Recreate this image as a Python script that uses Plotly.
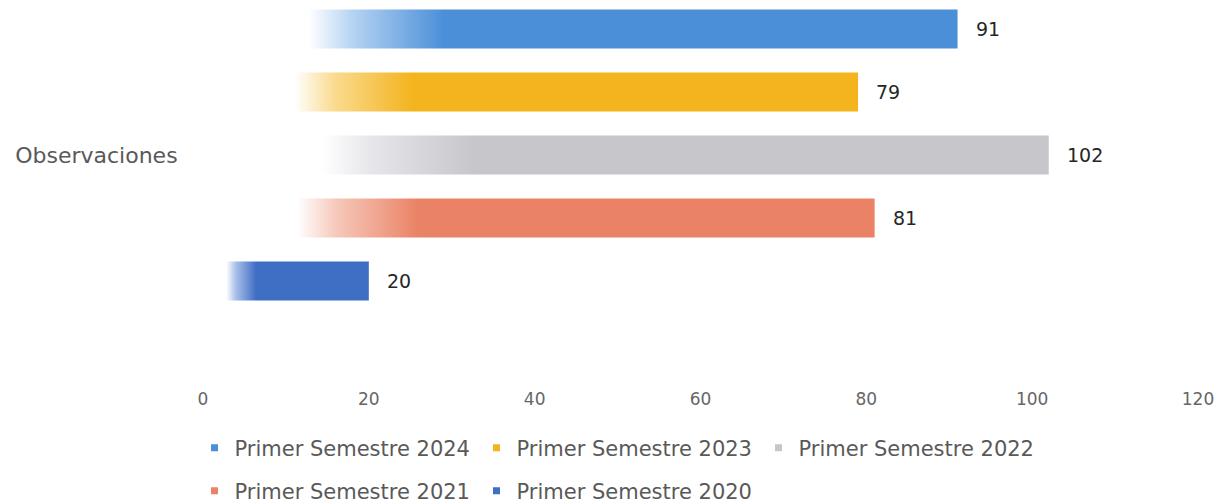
import plotly.graph_objects as go

category = "Observaciones"
series_names = ["Primer Semestre 2024", "Primer Semestre 2023", "Primer Semestre 2022",
                "Primer Semestre 2021", "Primer Semestre 2020"]
values = [91, 79, 102, 81, 20]
colors = ["#4A8FD8", "#F3B41E", "#C6C6CB", "#EA8366", "#3F6EC5"]
light_colors = ["#B3D2F2", "#FADB90", "#E6E6EA", "#F6C7B9", "#A7BEE8"]
x_ticks = [0, 20, 40, 60, 80, 100, 120]

FONT = "DejaVu Sans, Open Sans, sans-serif"

n = len(values)
slot = [n - 1 - i for i in range(n)]  # top to bottom
half = 0.31
cat_center = (n - 1) / 2

fig = go.Figure()
for i, (name, v, c, lc) in enumerate(zip(series_names, values, colors, light_colors)):
    y0 = slot[i] - half
    y1 = slot[i] + half
    fig.add_trace(go.Scatter(
        x=[0, v, v, 0, 0], y=[y0, y0, y1, y1, y0],
        mode="lines", fill="toself", line=dict(width=0),
        fillgradient=dict(type="horizontal",
                          colorscale=[[0, "#FFFFFF"], [0.14, "#FFFFFF"], [0.2, lc],
                                      [0.32, c], [1, c]]),
        showlegend=False, hoverinfo="skip", name=name))
    fig.add_annotation(x=v, y=slot[i], text=str(v), showarrow=False,
                       xanchor="left", xshift=16,
                       font=dict(family=FONT, size=19, color="#262626"))

# legend entries
for i, (name, c) in enumerate(zip(series_names, colors)):
    fig.add_trace(go.Scatter(
        x=[None], y=[None], mode="markers", name=name,
        marker=dict(symbol="square", size=7, color=c),
        legend="legend" if i < 3 else "legend2"))

leg_common = dict(orientation="h", xref="container", yref="container",
                  xanchor="left", yanchor="middle", entrywidth=237,
                  font=dict(family=FONT, size=21, color="#595959"),
                  bgcolor="rgba(0,0,0,0)", itemclick=False)

fig.update_layout(
    width=1229, height=504,
    margin=dict(l=203, r=31, t=0, b=117),
    paper_bgcolor="white", plot_bgcolor="white",
    xaxis=dict(range=[0, 120], tickvals=x_ticks, showgrid=False, zeroline=False,
               showline=False, automargin=False,
               tickfont=dict(family=FONT, size=17, color="#666666")),
    yaxis=dict(range=[4 - 358 / 63, 4 + 29 / 63], tickvals=[cat_center], ticktext=[category],
               showgrid=False, zeroline=False, showline=False, automargin=False,
               ticks="outside", ticklen=20, tickcolor="rgba(0,0,0,0)",
               tickfont=dict(family=FONT, size=22, color="#595959")),
    legend=dict(x=194.5 / 1229, y=1 - 448 / 504, **leg_common),
    legend2=dict(x=194.5 / 1229, y=1 - 491 / 504, **leg_common),
)

fig.write_html("out.html", config={"displayModeBar": False},
               post_script="document.body.style.margin='0px';document.body.style.overflow='hidden';")
